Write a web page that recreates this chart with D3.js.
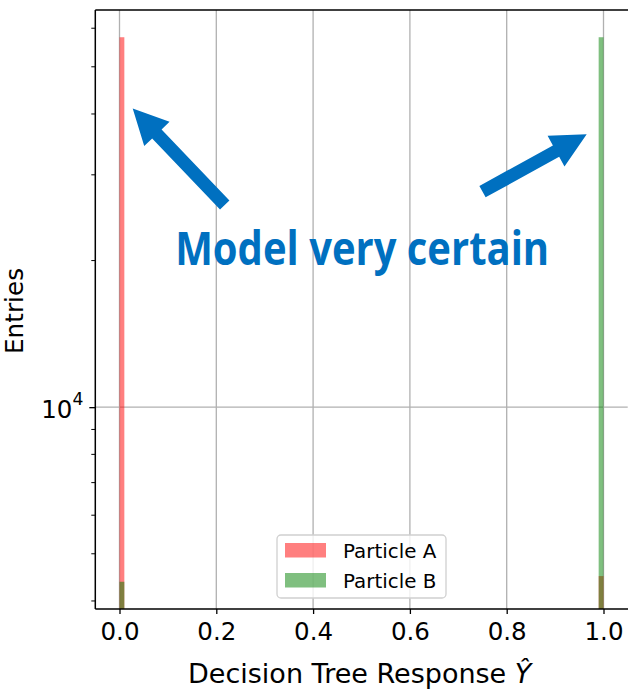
<!DOCTYPE html>
<html>
<head>
<meta charset="utf-8">
<script src="https://cdn.jsdelivr.net/npm/d3@7"></script>
<style>
  body { margin: 0; background: #fff; }
  svg { display: block; }
</style>
</head>
<body>
<script>
// histogram bins (left edges) that reach above the axis floor, width 0.01
const binEdges = [0.00, 0.99];
const binWidth = 0.01;
const particleA = [57500, 4500];
const particleB = [4380, 57500];
const seriesNames = ["Particle A", "Particle B"];
const seriesColors = ["#ff0000", "#008000"];

const xTicks = [0, 0.2, 0.4, 0.6, 0.8, 1.0];
const yMajorTicks = [1e4];
const yMinorTicks = [4000, 5000, 6000, 7000, 8000, 9000, 20000, 30000, 40000, 50000, 60000];

// annotation, in data coordinates
const noteText = "Model very certain";
const notePos = [0.115, 19560];
const arrows = [
  { from: [0.2174, 26010], to: [0.0273, 41030] },
  { from: [0.75, 27710], to: [0.9653, 36340] }
];

const W = 628, H = 690;
const plotL = 95.3, plotR = 627.7, plotT = 10, plotB = 609;
const font = "DejaVu Sans, sans-serif";
const noteBlue = "#0070c0";

const svg = d3.select("body").append("svg")
  .attr("width", W).attr("height", H);

// font size that makes `str` come out `target` px wide
function fitSize(str, target, style) {
  const t = svg.append("text").attr("font-family", font).attr("font-size", 100)
    .attr("font-style", style || "normal").text(str);
  const w = t.node().getComputedTextLength();
  t.remove();
  return 100 * target / w;
}
const tickSize = fitSize("0.2", 39);
const labelSize = fitSize("Decision Tree", 180);
const entriesSize = fitSize("Entries", 86);
const legendSize = fitSize("Particle A", 93.3);

const x = d3.scaleLinear().domain([-0.05, 1.05]).range([plotL, plotR]);

// log autoscale with 5% margins, like matplotlib
const all = particleA.concat(particleB);
const lo = Math.log10(d3.min(all)), hi = Math.log10(d3.max(all));
const pad = (hi - lo) * 0.05;
const y = d3.scaleLog().domain([10 ** (lo - pad), 10 ** (hi + pad)]).range([plotB, plotT]);

const plot = svg.append("g");

// grid
plot.selectAll("line.gx").data(xTicks).join("line")
  .attr("x1", d => x(d)).attr("x2", d => x(d))
  .attr("y1", plotT).attr("y2", plotB)
  .attr("stroke", "#b0b0b0").attr("stroke-width", 1.3);
plot.selectAll("line.gy").data(yMajorTicks).join("line")
  .attr("x1", plotL).attr("x2", plotR)
  .attr("y1", d => y(d)).attr("y2", d => y(d))
  .attr("stroke", "#b0b0b0").attr("stroke-width", 1.3);

// bars
[particleA, particleB].forEach((counts, i) => {
  plot.append("g").selectAll("rect").data(counts).join("rect")
    .attr("x", (d, j) => x(binEdges[j]))
    .attr("width", (d, j) => x(binEdges[j] + binWidth) - x(binEdges[j]))
    .attr("y", d => y(d))
    .attr("height", d => plotB - y(d))
    .attr("fill", seriesColors[i])
    .attr("fill-opacity", 0.5);
});

// spines
svg.append("line").attr("x1", plotL).attr("x2", plotL).attr("y1", plotT).attr("y2", plotB)
  .attr("stroke", "#000").attr("stroke-width", 1.5);
svg.append("line").attr("x1", plotL).attr("x2", W).attr("y1", plotT).attr("y2", plotT)
  .attr("stroke", "#000").attr("stroke-width", 1.5);
svg.append("line").attr("x1", plotL).attr("x2", W).attr("y1", plotB).attr("y2", plotB)
  .attr("stroke", "#000").attr("stroke-width", 1.5);

// x axis
const xAxis = svg.append("g")
  .attr("transform", `translate(0,${plotB})`)
  .call(d3.axisBottom(x).tickValues(xTicks).tickFormat(d3.format(".1f")).tickSize(5).tickPadding(8));
xAxis.select(".domain").remove();
xAxis.selectAll("line").attr("stroke", "#000").attr("stroke-width", 1.3);
xAxis.selectAll("text").attr("font-family", font).attr("font-size", tickSize).attr("fill", "#000")
  .attr("dy", null).attr("y", 31);

// y axis
const yAxis = svg.append("g")
  .attr("transform", `translate(${plotL},0)`)
  .call(d3.axisLeft(y).tickValues(yMajorTicks).tickFormat("").tickSize(6));
yAxis.select(".domain").remove();
yAxis.selectAll("line").attr("stroke", "#000").attr("stroke-width", 1.3);
yAxis.selectAll("line.minor").data(yMinorTicks).join("line")
  .attr("class", "minor")
  .attr("x1", -4).attr("x2", 0)
  .attr("y1", d => y(d)).attr("y2", d => y(d))
  .attr("stroke", "#000").attr("stroke-width", 1);
const yLab = yAxis.selectAll("text.lab").data(yMajorTicks).join("text")
  .attr("class", "lab")
  .attr("x", -12).attr("y", d => y(d) + 11)
  .attr("text-anchor", "end")
  .attr("font-family", font).attr("font-size", tickSize).attr("fill", "#000");
yLab.append("tspan").text(d => "10");
yLab.append("tspan").attr("dy", -13).attr("font-size", tickSize * 0.7).text(d => Math.round(Math.log10(d)));

// axis labels
svg.append("text")
  .attr("transform", "translate(23,311) rotate(-90)")
  .attr("text-anchor", "middle")
  .attr("font-family", font).attr("font-size", entriesSize).attr("fill", "#000")
  .text("Entries");
const xl = svg.append("text")
  .attr("x", 188).attr("y", 683)
  .attr("font-family", font).attr("font-size", labelSize).attr("fill", "#000");
xl.append("tspan").text("Decision Tree Response ");
xl.append("tspan").attr("font-style", "italic").text("\u0176");

// legend
const lg = svg.append("g").attr("transform", "translate(277,535)");
lg.append("rect").attr("width", 169).attr("height", 63).attr("rx", 4)
  .attr("fill", "#fff").attr("fill-opacity", 0.8)
  .attr("stroke", "#d0d0d0").attr("stroke-width", 1.3);
seriesNames.forEach((name, i) => {
  const row = lg.append("g").attr("transform", `translate(0,${8 + i * 30})`);
  row.append("rect").attr("x", 8).attr("width", 41).attr("height", 14.5)
    .attr("fill", seriesColors[i]).attr("fill-opacity", 0.5);
  row.append("text").attr("x", 66).attr("y", 14.5)
    .attr("font-family", font).attr("font-size", legendSize).attr("fill", "#000")
    .text(name);
});

// annotation arrows
const shaft = 6.5, headHalf = 17.5, headLen = 35;
arrows.forEach(a => {
  const x0 = x(a.from[0]), y0 = y(a.from[1]);
  const x1 = x(a.to[0]), y1 = y(a.to[1]);
  const len = Math.hypot(x1 - x0, y1 - y0);
  const ux = (x1 - x0) / len, uy = (y1 - y0) / len;
  const nx = -uy, ny = ux;
  const bx = x1 - ux * headLen, by = y1 - uy * headLen;
  const pts = [
    [x0 + nx * shaft, y0 + ny * shaft],
    [bx + nx * shaft, by + ny * shaft],
    [bx + nx * headHalf, by + ny * headHalf],
    [x1, y1],
    [bx - nx * headHalf, by - ny * headHalf],
    [bx - nx * shaft, by - ny * shaft],
    [x0 - nx * shaft, y0 - ny * shaft]
  ];
  svg.append("path")
    .attr("d", "M" + pts.map(p => `${p[0]},${p[1]}`).join("L") + "Z")
    .attr("fill", noteBlue);
});

svg.append("text")
  .attr("x", x(notePos[0])).attr("y", y(notePos[1]))
  .attr("font-family", "Open Sans, sans-serif").attr("font-weight", "bold")
  .attr("font-size", 47).attr("fill", noteBlue)
  .attr("textLength", 374).attr("lengthAdjust", "spacingAndGlyphs")
  .text(noteText);
</script>
</body>
</html>
